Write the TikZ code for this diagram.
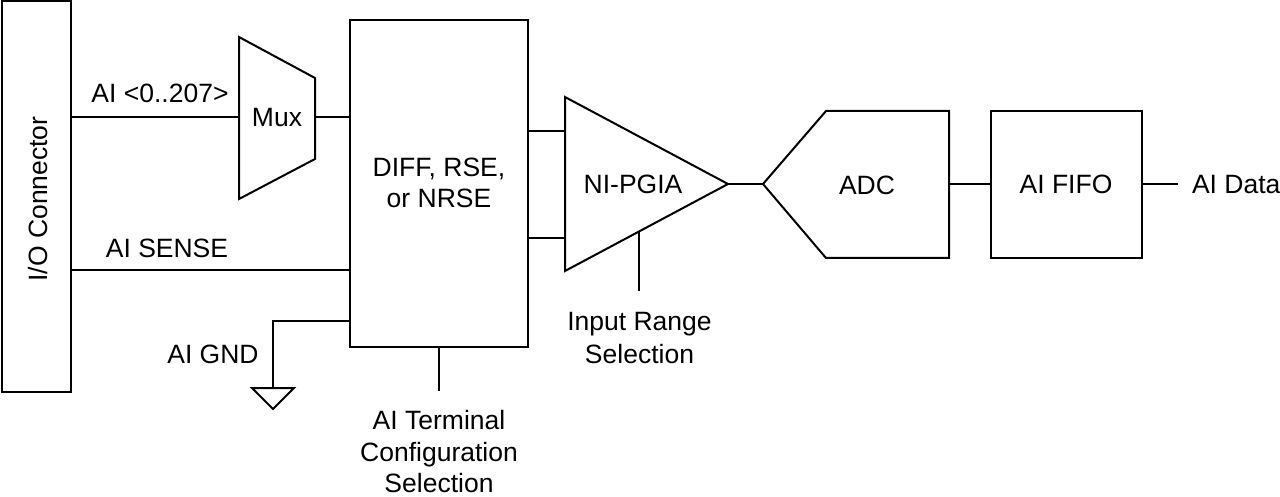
\documentclass[tikz,border=0pt]{standalone}
\usepackage{fontspec}
\setmainfont{Liberation Sans}
\begin{document}
\begin{tikzpicture}[x=1pt,y=-1pt,line width=2pt,
  lbl/.style={font=\fontsize{26.5}{31}\selectfont, inner sep=0, anchor=base},
  blk/.style={draw, inner sep=0, rectangle}]
\useasboundingbox (0,0) rectangle (1280,497);

% blocks
\node[blk, minimum width=69pt, minimum height=391pt] (io) at (36.5,196.5) {};
\node[lbl, rotate=90] (iot) at (47,199) {I/O Connector};
\node[blk, minimum width=178pt, minimum height=327pt] (term) at (439,183.5) {};
\node[blk, minimum width=151pt, minimum height=147pt] (fifo) at (1066,184.5) {};

% mux
\coordinate (m1) at (239,37);
\coordinate (m2) at (315,78);
\coordinate (m3) at (315,159);
\coordinate (m4) at (239,199);
\draw (m1) -- (m2) -- (m3) -- (m4) -- cycle;
\coordinate (muxin) at (239,117);
\coordinate (muxout) at (315,117);

% PGIA
\coordinate (p1) at (565,97);
\coordinate (p2) at (728,184);
\coordinate (p3) at (565,271);
\draw (p1) -- (p2) -- (p3) -- cycle;
\coordinate (pin1) at (565,131);
\coordinate (pin2) at (565,238);
\coordinate (pctl) at (639,231.5);
\coordinate (psel) at (639,291);

% ADC
\coordinate (a0) at (763,184);
\coordinate (a1) at (826,111);
\coordinate (a2) at (949,111);
\coordinate (a3) at (949,258);
\coordinate (a4) at (826,258);
\draw (a0) -- (a1) -- (a2) -- (a3) -- (a4) -- cycle;
\coordinate (adcout) at (949,184);
\coordinate (dout) at (1178,184);

% connectors
\coordinate (sense) at (350,270);
\coordinate (gndtap) at (350,321);
\coordinate (gnd) at (273,388);
\coordinate (tsel) at (439,391);
\draw (io.east |- muxin) -- (muxin);
\draw (muxout) -- (term.west |- muxout);
\draw (io.east |- sense) -- (sense);
\draw (gndtap) -| (gnd);
\draw (gnd) ++(-21,0) -- ++(42,0) -- ++(-21,21) -- cycle;
\draw (term.south) -- (tsel);
\draw (term.east |- pin1) -- (pin1);
\draw (term.east |- pin2) -- (pin2);
\draw (pctl) -- (psel);
\draw (p2) -- (a0);
\draw (adcout) -- (fifo.west |- adcout);
\draw (fifo.east |- dout) -- (dout);

% labels
\node[lbl] (lai) at (160,103) {AI <0..207>};
\node[lbl] (lmux) at (277,127) {Mux};
\node[lbl] (lsense) at (167,258) {AI SENSE};
\node[lbl] (lgnd) at (213,363) {AI GND};
\node[lbl] (ld1) at (439,177) {DIFF, RSE,};
\node[lbl] (ld2) at (439,208) {or NRSE};
\node[lbl] (lt1) at (439,429) {AI Terminal};
\node[lbl] (lt2) at (439,461) {Configuration};
\node[lbl] (lt3) at (439,492) {Selection};
\node[lbl] (lpg) at (633,194) {NI-PGIA};
\node[lbl] (lr1) at (639.5,330) {Input Range};
\node[lbl] (lr2) at (639.5,363) {Selection};
\node[lbl] (ladc) at (867,195) {ADC};
\node[lbl] (lfifo) at (1066,194) {AI FIFO};
\node[lbl, anchor=base west] (ldata) at (1191,194) {AI Data};
\end{tikzpicture}
\end{document}
